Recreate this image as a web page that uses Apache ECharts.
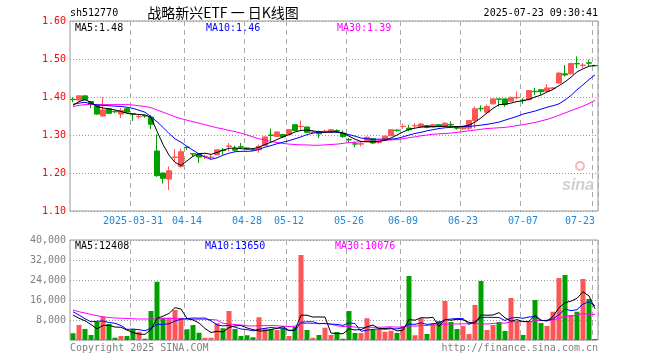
<!DOCTYPE html>
<html><head><meta charset="utf-8">
<script src="https://cdn.jsdelivr.net/npm/echarts@6/dist/echarts.min.js"></script>
<style>html,body{margin:0;padding:0;background:#fff}#c{width:660px;height:360px}</style>
</head><body><div id="c"></div>
<script>
const dates = ['2025-03-17','2025-03-18','2025-03-19','2025-03-20','2025-03-21','2025-03-24','2025-03-25','2025-03-26','2025-03-27','2025-03-28','2025-03-31',
'2025-04-01','2025-04-02','2025-04-03','2025-04-07','2025-04-08','2025-04-09','2025-04-10','2025-04-11','2025-04-14','2025-04-15','2025-04-16','2025-04-17','2025-04-18','2025-04-21','2025-04-22','2025-04-23','2025-04-24','2025-04-25','2025-04-28','2025-04-29','2025-04-30',
'2025-05-06','2025-05-07','2025-05-08','2025-05-09','2025-05-12','2025-05-13','2025-05-14','2025-05-15','2025-05-16','2025-05-19','2025-05-20','2025-05-21','2025-05-22','2025-05-23','2025-05-26','2025-05-27','2025-05-28','2025-05-29','2025-05-30',
'2025-06-03','2025-06-04','2025-06-05','2025-06-06','2025-06-09','2025-06-10','2025-06-11','2025-06-12','2025-06-13','2025-06-16','2025-06-17','2025-06-18','2025-06-19','2025-06-20','2025-06-23','2025-06-24','2025-06-25','2025-06-26','2025-06-27','2025-06-30',
'2025-07-01','2025-07-02','2025-07-03','2025-07-04','2025-07-07','2025-07-08','2025-07-09','2025-07-10','2025-07-11','2025-07-14','2025-07-15','2025-07-16','2025-07-17','2025-07-18','2025-07-21','2025-07-22','2025-07-23'];

const opens = [1.394,1.392,1.403,1.388,1.377,1.350,1.369,1.362,1.355,1.369,
1.356,1.348,1.351,1.347,1.258,1.200,1.184,1.241,1.217,1.268,
1.251,1.250,1.243,1.241,1.248,1.260,1.270,1.264,1.269,1.266,
1.262,1.261,1.272,1.300,1.296,1.301,1.301,1.327,1.322,1.321,
1.307,1.309,1.309,1.308,1.312,1.305,1.288,1.277,1.276,1.283,
1.290,1.280,1.288,1.298,1.313,1.322,1.318,1.324,1.321,1.325,
1.321,1.327,1.323,1.328,1.319,1.316,1.318,1.338,1.370,1.360,
1.382,1.395,1.395,1.389,1.398,1.392,1.393,1.415,1.419,1.415,
1.423,1.437,1.461,1.461,1.488,1.483,1.490,1.483];
const closes = [1.393,1.403,1.393,1.381,1.355,1.366,1.357,1.361,1.364,1.360,
1.355,1.349,1.350,1.328,1.193,1.186,1.206,1.242,1.256,1.267,
1.250,1.242,1.244,1.242,1.261,1.259,1.271,1.260,1.268,1.263,
1.261,1.270,1.295,1.299,1.308,1.295,1.314,1.312,1.323,1.307,
1.308,1.303,1.310,1.314,1.311,1.296,1.287,1.276,1.277,1.294,
1.279,1.281,1.297,1.314,1.312,1.323,1.314,1.325,1.329,1.320,
1.327,1.323,1.331,1.327,1.318,1.321,1.338,1.369,1.369,1.375,
1.395,1.394,1.380,1.399,1.399,1.391,1.417,1.414,1.414,1.424,
1.424,1.463,1.458,1.488,1.487,1.484,1.489,1.482];
const lows = [1.386,1.391,1.392,1.371,1.353,1.349,1.355,1.358,1.345,1.357,
1.337,1.343,1.345,1.315,1.190,1.172,1.155,1.229,1.214,1.261,
1.243,1.226,1.237,1.235,1.247,1.248,1.257,1.257,1.263,1.262,
1.258,1.253,1.271,1.283,1.295,1.293,1.300,1.310,1.310,1.305,
1.303,1.292,1.306,1.306,1.307,1.292,1.279,1.268,1.270,1.282,
1.276,1.277,1.286,1.297,1.309,1.316,1.310,1.318,1.320,1.318,
1.319,1.321,1.321,1.318,1.314,1.314,1.313,1.318,1.362,1.356,
1.381,1.375,1.374,1.387,1.394,1.382,1.391,1.406,1.406,1.414,
1.421,1.435,1.454,1.459,1.476,1.476,1.481,1.481];
const highs = [1.399,1.404,1.404,1.390,1.378,1.400,1.371,1.365,1.371,1.371,
1.357,1.353,1.353,1.353,1.302,1.201,1.217,1.263,1.264,1.270,
1.252,1.252,1.248,1.248,1.262,1.266,1.279,1.272,1.279,1.267,
1.264,1.275,1.296,1.317,1.309,1.303,1.316,1.328,1.338,1.322,
1.312,1.312,1.314,1.316,1.315,1.312,1.292,1.283,1.283,1.296,
1.292,1.284,1.298,1.315,1.314,1.330,1.327,1.332,1.331,1.327,
1.329,1.329,1.334,1.336,1.321,1.323,1.340,1.375,1.378,1.380,
1.396,1.395,1.396,1.401,1.415,1.397,1.418,1.424,1.420,1.434,
1.426,1.465,1.484,1.490,1.507,1.489,1.498,1.484];
const volumes = [2700,6000,4400,2000,7300,9300,6400,900,1600,1600,
4300,3300,500,11600,23300,8900,8900,12000,8900,4300,
6000,2900,900,900,6700,4700,11600,4400,1600,1900,
1100,9100,4700,4300,4000,4700,1600,5300,34000,4000,
900,2000,4900,2000,3200,500,11600,2800,2800,8700,
4000,4300,3300,3700,2800,5600,25600,1900,8700,2400,
6700,7600,15600,7200,4400,5600,2400,14000,23600,4000,
6000,7200,3600,16800,7200,2000,7600,16000,6800,5600,
11300,24800,26000,10000,11300,24400,16400,400];

const ma5 = [1.378,1.388,1.393,1.386,1.375,1.371,1.369,1.366,1.362,1.357,
1.355,1.354,1.353,1.346,1.310,1.275,1.247,1.228,1.220,1.232,
1.244,1.251,1.252,1.249,1.254,1.260,1.265,1.266,1.264,1.263,
1.264,1.268,1.275,1.281,1.288,1.295,1.301,1.308,1.312,1.313,
1.311,1.308,1.307,1.308,1.309,1.305,1.297,1.289,1.283,1.282,
1.282,1.283,1.286,1.292,1.300,1.308,1.315,1.318,1.321,1.322,
1.322,1.322,1.323,1.323,1.322,1.323,1.326,1.334,1.345,1.358,
1.370,1.380,1.381,1.384,1.388,1.390,1.394,1.400,1.405,1.413,
1.420,1.430,1.440,1.452,1.466,1.474,1.481,1.483];
const ma10 = [1.381,1.384,1.386,1.382,1.379,1.378,1.377,1.376,1.375,1.373,
1.370,1.365,1.360,1.348,1.335,1.320,1.304,1.290,1.281,1.270,
1.260,1.250,1.242,1.236,1.240,1.247,1.252,1.256,1.257,1.257,
1.258,1.262,1.268,1.272,1.277,1.281,1.285,1.290,1.295,1.301,
1.305,1.307,1.308,1.308,1.307,1.305,1.301,1.297,1.292,1.290,
1.289,1.289,1.289,1.289,1.291,1.295,1.300,1.304,1.307,1.311,
1.314,1.317,1.319,1.320,1.321,1.322,1.323,1.324,1.326,1.328,
1.331,1.334,1.339,1.344,1.349,1.355,1.359,1.363,1.368,1.373,
1.377,1.382,1.392,1.404,1.419,1.432,1.446,1.458];
const ma30 = [1.375,1.378,1.380,1.380,1.380,1.380,1.380,1.380,1.380,1.380,
1.379,1.377,1.375,1.372,1.366,1.360,1.354,1.348,1.343,1.339,
1.335,1.331,1.327,1.323,1.319,1.316,1.312,1.309,1.305,1.300,
1.295,1.290,1.287,1.283,1.280,1.278,1.276,1.275,1.274,1.274,
1.273,1.273,1.274,1.275,1.276,1.278,1.280,1.281,1.282,1.283,
1.284,1.285,1.286,1.287,1.288,1.290,1.293,1.295,1.298,1.300,
1.302,1.303,1.304,1.305,1.307,1.309,1.311,1.313,1.315,1.317,
1.318,1.319,1.320,1.322,1.325,1.327,1.330,1.333,1.337,1.341,
1.346,1.352,1.358,1.364,1.370,1.376,1.383,1.391];

const vma5 = [10000,8700,7700,6200,4480,5800,5880,5180,5100,3960,
2960,2340,2260,4260,8600,9520,10640,12940,12400,8600,
8020,6820,4600,3000,3480,3220,4960,5660,5800,4840,
4120,3620,3680,4220,4640,5360,3860,3980,9920,9920,
9160,9240,9160,2760,2600,2520,4440,4020,4180,5280,
5980,4520,4620,4800,3620,3940,8200,7920,8920,8840,
9060,5460,8200,7900,8300,8080,7040,6720,10000,9920,
10000,10960,8880,7520,8160,7360,7440,9920,7920,7600,
9460,12900,14900,15540,16680,19300,17620,12500];
const vma10 = [11300,10000,8500,7300,7500,7600,7000,6700,5800,4220,
4380,4110,3720,4680,6280,6240,6490,7600,8330,8600,
8770,8730,8770,7700,6040,5620,5890,5130,4400,4160,
3670,4290,4670,5010,4740,4740,3740,3830,7070,7280,
7260,6550,6570,6340,6260,5840,6840,6590,3470,3940,
4250,4480,4320,4490,4450,4960,6360,6270,6860,6230,
6500,6830,8060,8410,8570,8570,6250,7460,8950,9110,
9040,9000,7800,8760,9040,8680,9200,9400,7720,7880,
8410,10170,12410,11730,12140,14380,15260,13700];
const vma30 = [12000,11300,10800,10200,9700,9300,9000,8800,8700,8600,
8500,8400,8400,8400,8400,8500,8700,8600,8400,8300,
8300,8300,8300,8200,8000,6700,6400,6200,6000,5660,
5610,5710,5720,5800,5690,5530,5370,5520,6600,6680,
6570,6520,6670,6350,5680,5400,5490,5180,4980,5130,
5060,5110,5190,5280,5150,5180,5650,5560,5800,5820,
6000,5950,6320,6410,6430,6460,6480,6770,6430,6430,
6600,6770,6730,7220,7350,7400,7270,7710,7840,7740,
7980,8670,9420,9630,9920,10540,10240,10190];

const labelIndex = [10,19,29,36,46,55,65,75,87];
const labelText = ['2025-03-31','04-14','04-28','05-12','05-26','06-09','06-23','07-07','07-23'];
const priceLegend = ['MA5:1.48','MA10:1.46','MA30:1.39'];
const volLegend = ['MA5:12408','MA10:13650','MA30:10076'];

const RED = '#FF5555', GREEN = '#00A000';
const MONO = "'DejaVu Sans Mono', monospace";
const isLabel = (i) => labelIndex.indexOf(i) >= 0;

const chart = echarts.init(document.getElementById('c'), null, {renderer: 'canvas'});

function lineSeries(data, color, xi, yi) {
  return {type: 'line', data: data, xAxisIndex: xi, yAxisIndex: yi, symbol: 'none',
    lineStyle: {color: color, width: 1}, itemStyle: {color: color}, z: 5, silent: true};
}
function txt(x, y, text, color, size, family, align) {
  return {type: 'text', x: x, y: y, z: 100, silent: true,
    style: {text: text, fill: color, fontSize: size, fontFamily: family, align: align || 'left', verticalAlign: 'middle'}};
}

const splitX = {show: true, interval: (i) => isLabel(i), lineStyle: {color: '#aaaaaa', type: [5, 4], width: 1}};

chart.setOption({
  animation: false,
  backgroundColor: '#ffffff',
  grid: [
    {left: 70, top: 21, width: 528, height: 190, show: true, borderColor: '#999999', borderWidth: 1, backgroundColor: 'transparent'},
    {left: 70, top: 240, width: 528, height: 100, show: true, borderColor: '#999999', borderWidth: 1, backgroundColor: 'transparent'}
  ],
  xAxis: [
    {type: 'category', gridIndex: 0, data: dates, boundaryGap: true,
      axisLine: {show: false}, axisTick: {show: false},
      axisLabel: {show: true, interval: (i) => isLabel(i), formatter: (v, i) => labelText[labelIndex.indexOf(i)],
        color: '#1E88D8', fontSize: 10, fontFamily: MONO, margin: 5, alignMaxLabel: 'right'},
      splitLine: splitX},
    {type: 'category', gridIndex: 1, data: dates, boundaryGap: true,
      axisLine: {show: false}, axisTick: {show: false}, axisLabel: {show: false},
      splitLine: splitX}
  ],
  yAxis: [
    {type: 'value', gridIndex: 0, min: 1.1, max: 1.6, interval: 0.1, scale: true,
      axisLine: {show: false}, axisTick: {show: false},
      axisLabel: {color: '#FF0000', fontSize: 10, fontFamily: MONO, margin: 4, formatter: (v) => v.toFixed(2)},
      splitLine: {show: true, lineStyle: {color: '#999999', type: [1, 2], width: 1}}},
    {type: 'value', gridIndex: 1, min: 0, max: 40000, interval: 8000,
      axisLine: {show: false}, axisTick: {show: false},
      axisLabel: {color: '#808080', fontSize: 10, fontFamily: MONO, margin: 4, showMinLabel: false},
      splitLine: {show: true, lineStyle: {color: '#999999', type: [1, 2], width: 1}}}
  ],
  series: [
    {type: 'candlestick', xAxisIndex: 0, yAxisIndex: 0, barWidth: 5, silent: true,
      data: dates.map((d, i) => [opens[i], closes[i], lows[i], highs[i]]),
      itemStyle: {color: RED, color0: GREEN, borderColor: RED, borderColor0: GREEN, borderWidth: 1}},
    lineSeries(ma30, '#FF00FF', 0, 0),
    lineSeries(ma10, '#0000FF', 0, 0),
    lineSeries(ma5, '#000000', 0, 0),
    {type: 'bar', xAxisIndex: 1, yAxisIndex: 1, barWidth: 5, silent: true,
      data: volumes.map((v, i) => ({value: v, itemStyle: {color: closes[i] >= opens[i] ? RED : GREEN}}))},
    lineSeries(vma30, '#FF00FF', 1, 1),
    lineSeries(vma10, '#0000FF', 1, 1),
    lineSeries(vma5, '#000000', 1, 1)
  ],
  graphic: [
    txt(70, 13, 'sh512770', '#000000', 10, MONO),
    txt(223, 13, '战略新兴ETF 一 日K线图', '#000000', 14, "'Noto Sans CJK SC', sans-serif", 'center'),
    txt(598, 13, '2025-07-23 09:30:41', '#000000', 10, MONO, 'right'),
    txt(75, 28, priceLegend[0], '#000000', 10, MONO),
    txt(206, 28, priceLegend[1], '#0000FF', 10, MONO),
    txt(337, 28, priceLegend[2], '#FF00FF', 10, MONO),
    txt(75, 246, volLegend[0], '#000000', 10, MONO),
    txt(205, 246, volLegend[1], '#0000FF', 10, MONO),
    txt(335, 246, volLegend[2], '#FF00FF', 10, MONO),
    txt(70, 348, 'Copyright 2025 SINA.COM', '#808080', 10, MONO),
    txt(598, 348, 'http://finance.sina.com.cn', '#808080', 10, MONO, 'right'),
    {type: 'circle', z: 1, silent: true, shape: {cx: 580, cy: 166, r: 4}, style: {fill: 'none', stroke: '#F2B8B8', lineWidth: 2}},
    {type: 'text', x: 578, y: 186, z: 1, silent: true,
      style: {text: 'sina', fill: '#D0D0D0', fontSize: 16, fontWeight: 'bold', fontStyle: 'italic', fontFamily: 'Liberation Sans, sans-serif', align: 'center', verticalAlign: 'middle'}}
  ]
});
</script>
</body></html>
